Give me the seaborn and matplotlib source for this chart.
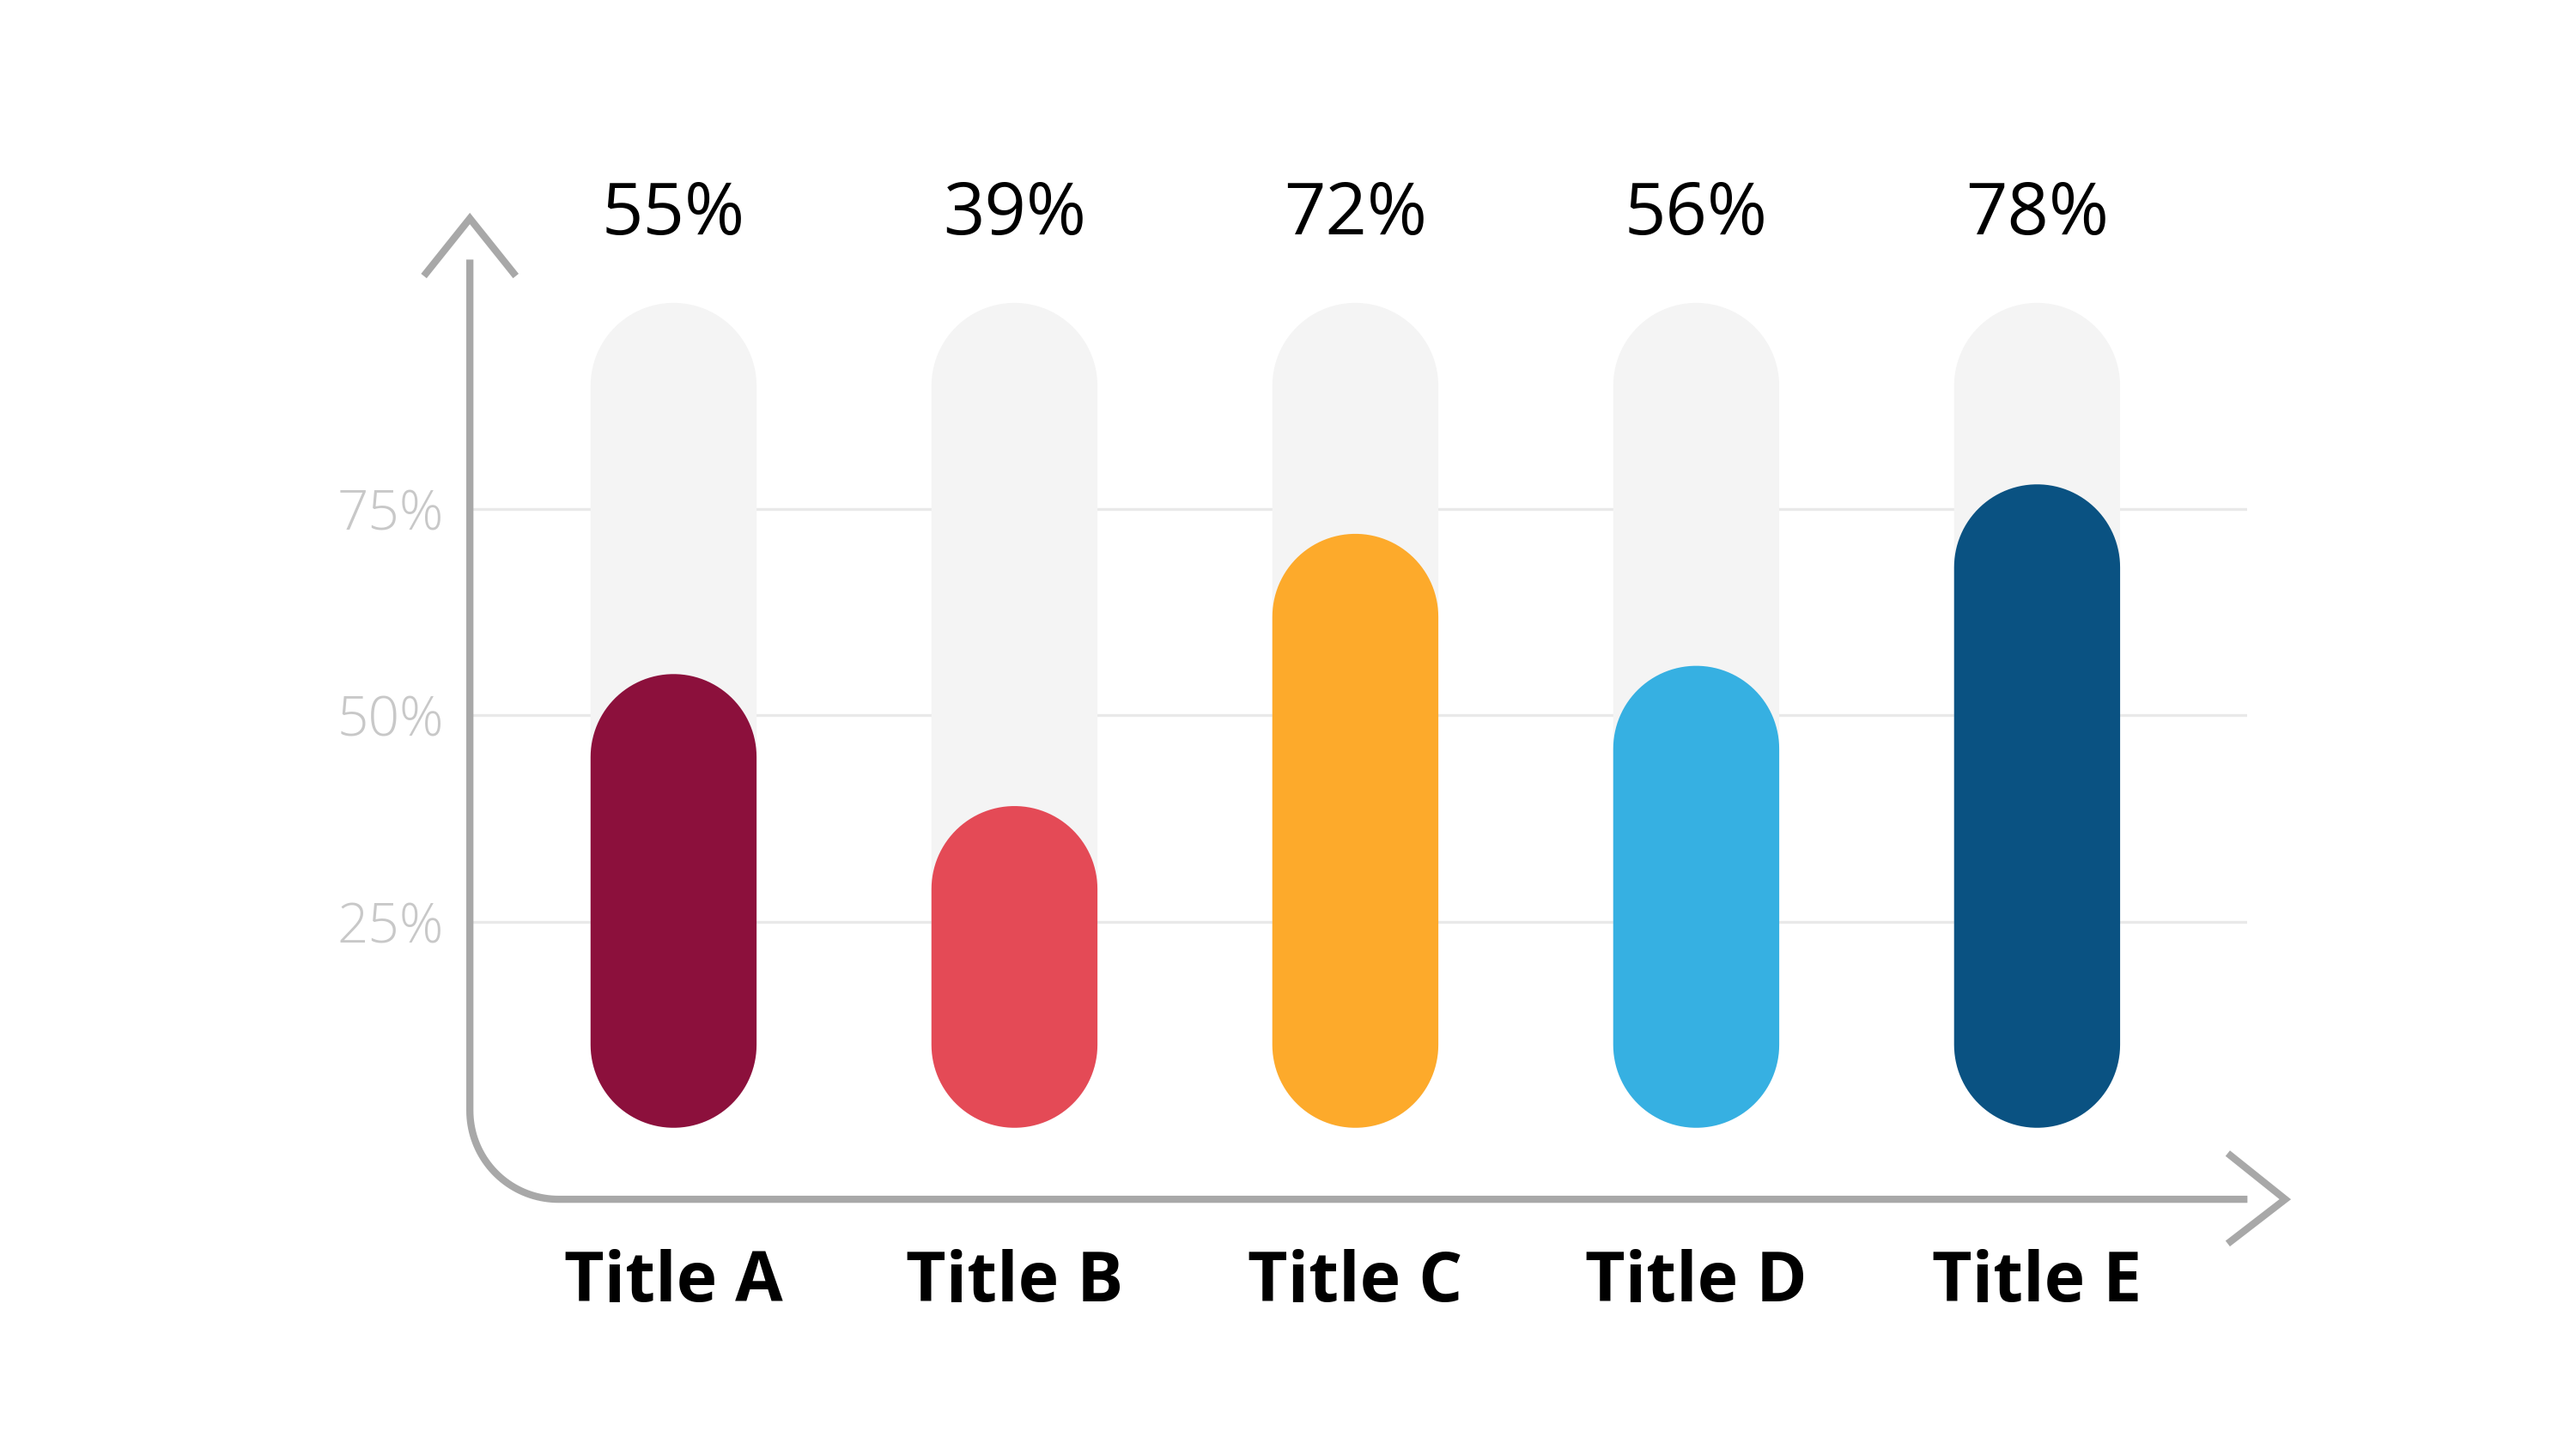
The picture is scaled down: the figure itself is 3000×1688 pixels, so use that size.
import numpy as np
import pandas as pd
import seaborn as sns
import matplotlib.pyplot as plt
from matplotlib.patches import Polygon

# --- data ---
titles = ["Title A", "Title B", "Title C", "Title D", "Title E"]
values = [55, 39, 72, 56, 78]
full = [100, 100, 100, 100, 100]
colors = ["#8c103c", "#e44a56", "#fdaa2b", "#36b0e2", "#0a5282"]
ytick_vals = [25, 50, 75]
ytick_labels = ["25%", "50%", "75%"]

df = pd.DataFrame({"title": titles, "value": values, "full": full})

sns.set_theme(style="white")
plt.rcParams["font.family"] = ["Open Sans", "DejaVu Sans"]

fig = plt.figure(figsize=(15, 8.44), dpi=200)
W, H = 1568, 882  # layout reference grid

# main axes, left spine sits on the drawn y-axis
left, right, bottom, top = 286, 1368, 730, 100
ax = fig.add_axes([left / W, (H - bottom) / H, (right - left) / W, (bottom - top) / H])
ax.set_facecolor("none")

sns.barplot(data=df, x="title", y="full", color="#f4f4f4", width=0.487,
            saturation=1, ax=ax)
sns.barplot(data=df, x="title", y="value", hue="title", palette=colors,
            width=0.487, saturation=1, legend=False, ax=ax)

ax.set_xlim(-0.5976, 4.617)
ax.set_ylim(-8.67, 116.8)

# turn the plain bars into pills (true semicircle ends)
xr = np.diff(ax.get_xlim())[0] / (right - left)
yr = np.diff(ax.get_ylim())[0] / (bottom - top)
aspect = yr / xr
t = np.linspace(0, np.pi, 60)
for p in list(ax.patches):
    x0, y0, w, h = p.get_x(), p.get_y(), p.get_width(), p.get_height()
    fc = p.get_facecolor()
    p.remove()
    rx = w / 2
    ry = rx * aspect
    cx = x0 + rx
    top_x = cx + rx * np.cos(t)
    top_y = y0 + h - ry + ry * np.sin(t)
    bot_x = cx - rx * np.cos(t)
    bot_y = y0 + ry - ry * np.sin(t)
    pts = np.column_stack([np.concatenate([top_x, bot_x]),
                           np.concatenate([top_y, bot_y])])
    ax.add_patch(Polygon(pts, closed=True, fc=fc, ec="none", zorder=2))

# value labels
for i, v in enumerate(values):
    ax.text(i, 110.6, f"{v}%", ha="center", va="center", fontsize=30.5,
            color="black", clip_on=False)

ax.set_yticks(ytick_vals, labels=ytick_labels)
ax.tick_params(axis="y", length=0, pad=11, labelsize=23, labelcolor="#c8c8c8")
for lab in ax.get_yticklabels():
    lab.set_fontweight("light")
ax.tick_params(axis="x", length=0, pad=21, labelsize=29)
for lab in ax.get_xticklabels():
    lab.set_fontweight("bold")
    lab.set_color("black")
ax.set_xlabel("")
ax.set_ylabel("")
ax.yaxis.grid(True, color="#e9e9e9", linewidth=1.2)
ax.set_axisbelow(True)
sns.despine(ax=ax, left=True, bottom=True)

# overlay for the arrow-style axes
ov = fig.add_axes([0, 0, 1, 1])
ov.set_xlim(0, W)
ov.set_ylim(H, 0)
ov.axis("off")
ov.set_facecolor("none")

gray = "#a8a8a8"
r = 54
theta = np.linspace(np.pi, np.pi / 2, 40)
arc_x = (286 + r) + r * np.cos(theta)
arc_y = (730 - r) + r * np.sin(theta)
px = np.concatenate([[286], arc_x, [1368]])
py = np.concatenate([[158], arc_y, [730]])
ov.plot(px, py, color=gray, lw=3, solid_capstyle="butt")
ov.plot([258, 286, 314], [168, 133, 168], color=gray, lw=3,
        solid_joinstyle="miter", solid_capstyle="butt")
ov.plot([1356, 1391, 1356], [702, 730, 757], color=gray, lw=3,
        solid_joinstyle="miter", solid_capstyle="butt")

fig.savefig("out.png", dpi=200, facecolor="white")
